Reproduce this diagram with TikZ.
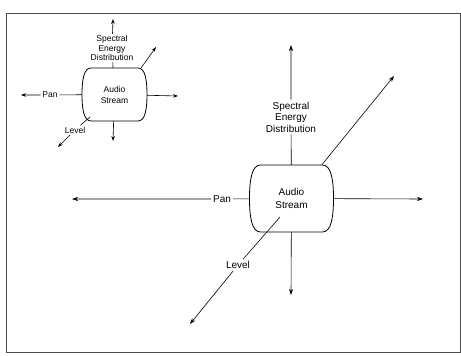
\documentclass[tikz,border=0pt]{standalone}
\usepackage{fontspec}
\setmainfont{Liberation Sans}
\usetikzlibrary{arrows.meta,calc}

% barrel outline round a node: node, half width, half height, corner inset
\newcommand{\streamshape}[4]{%
  \begin{scope}[shift={(#1.center)}]
    \draw[line width=0.8pt] ({-#2+#4},{-#3}) -- ({#2-#4},{-#3})
      .. controls ({#2-0.2*#4},{-#3}) and ({#2},{-0.55*#3}) .. ({#2},0)
      .. controls ({#2},{0.55*#3}) and ({#2-0.2*#4},{#3}) .. ({#2-#4},{#3})
      -- ({-#2+#4},{#3})
      .. controls ({-#2+0.2*#4},{#3}) and ({-#2},{0.55*#3}) .. ({-#2},0)
      .. controls ({-#2},{-0.55*#3}) and ({-#2+0.2*#4},{-#3}) .. cycle;
  \end{scope}}

\begin{document}
\begin{tikzpicture}[x=1pt,y=-1pt,
  stream/.style={rectangle,inner sep=0pt,align=center,
    font=\fontsize{10}{13}\selectfont},
  sstream/.style={rectangle,inner sep=0pt,align=center,
    font=\fontsize{8.5}{11}\selectfont},
  lbl/.style={inner sep=2pt,align=center,font=\fontsize{10}{11.5}\selectfont},
  slbl/.style={inner sep=1.5pt,align=center,font=\fontsize{8.5}{9.5}\selectfont},
  flow/.style={-{Stealth[length=6pt,width=4pt]},line width=0.6pt},
  sflow/.style={-{Stealth[length=5pt,width=3.5pt]},line width=0.6pt}
]
\useasboundingbox (0,0) rectangle (461,356);
\draw[black!70,line width=0.7pt] (6,13) rectangle (460,352);

% Small diagram
\node[sstream,minimum width=65pt,minimum height=53pt] (small) at (114.5,94.5) {Audio\\Stream};
\streamshape{small}{32.5}{26.5}{9}
\node[slbl] (ssed)   at (112,48)  {Spectral\\Energy\\Distribution};
\node[slbl] (span)   at (50,95)   {Pan};
\node[slbl] (slevel) at (75,130)  {Level};
\coordinate (suptip)  at (113,19);
\coordinate (sdntip)  at (113,141);
\coordinate (srttip)  at (178,96);
\coordinate (slftip)  at (21,95);
\coordinate (snetip)  at (156,47);
\coordinate (sswtip)  at (58,147);
\coordinate (slvs)    at (90,117);

\draw[sflow] (small) -- (ssed) -- (suptip);
\draw[sflow] (small) -- (sdntip);
\draw[sflow] (small) -- (srttip);
\draw[sflow] (small) -- (span) -- (slftip);
\draw[sflow] (small.45) -- (snetip);
\draw[sflow] (slvs) -- (slevel) -- (sswtip);

% Large diagram
\node[stream,minimum width=84pt,minimum height=67pt] (big) at (291.5,198.5) {Audio\\Stream};
\streamshape{big}{42}{33.5}{11}
\node[lbl] (sed)   at (291,117) {Spectral\\Energy\\Distribution};
\node[lbl] (pan)   at (222,199) {Pan};
\node[lbl] (level) at (238,265) {Level};
\coordinate (uptip) at (291,45);
\coordinate (dntip) at (291,295);
\coordinate (rttip) at (423,199);
\coordinate (lftip) at (72,199);
\coordinate (netip) at (394,76);
\coordinate (swtip) at (190,324);
\coordinate (lvs)   at (280,217);

\draw[flow] (big) -- (sed) -- (uptip);
\draw[flow] (big) -- (dntip);
\draw[flow] (big) -- (rttip);
\draw[flow] (big) -- (pan) -- (lftip);
\draw[flow] (big.48) -- (netip);
\draw[flow] (lvs) -- (level) -- (swtip);
\end{tikzpicture}
\end{document}
